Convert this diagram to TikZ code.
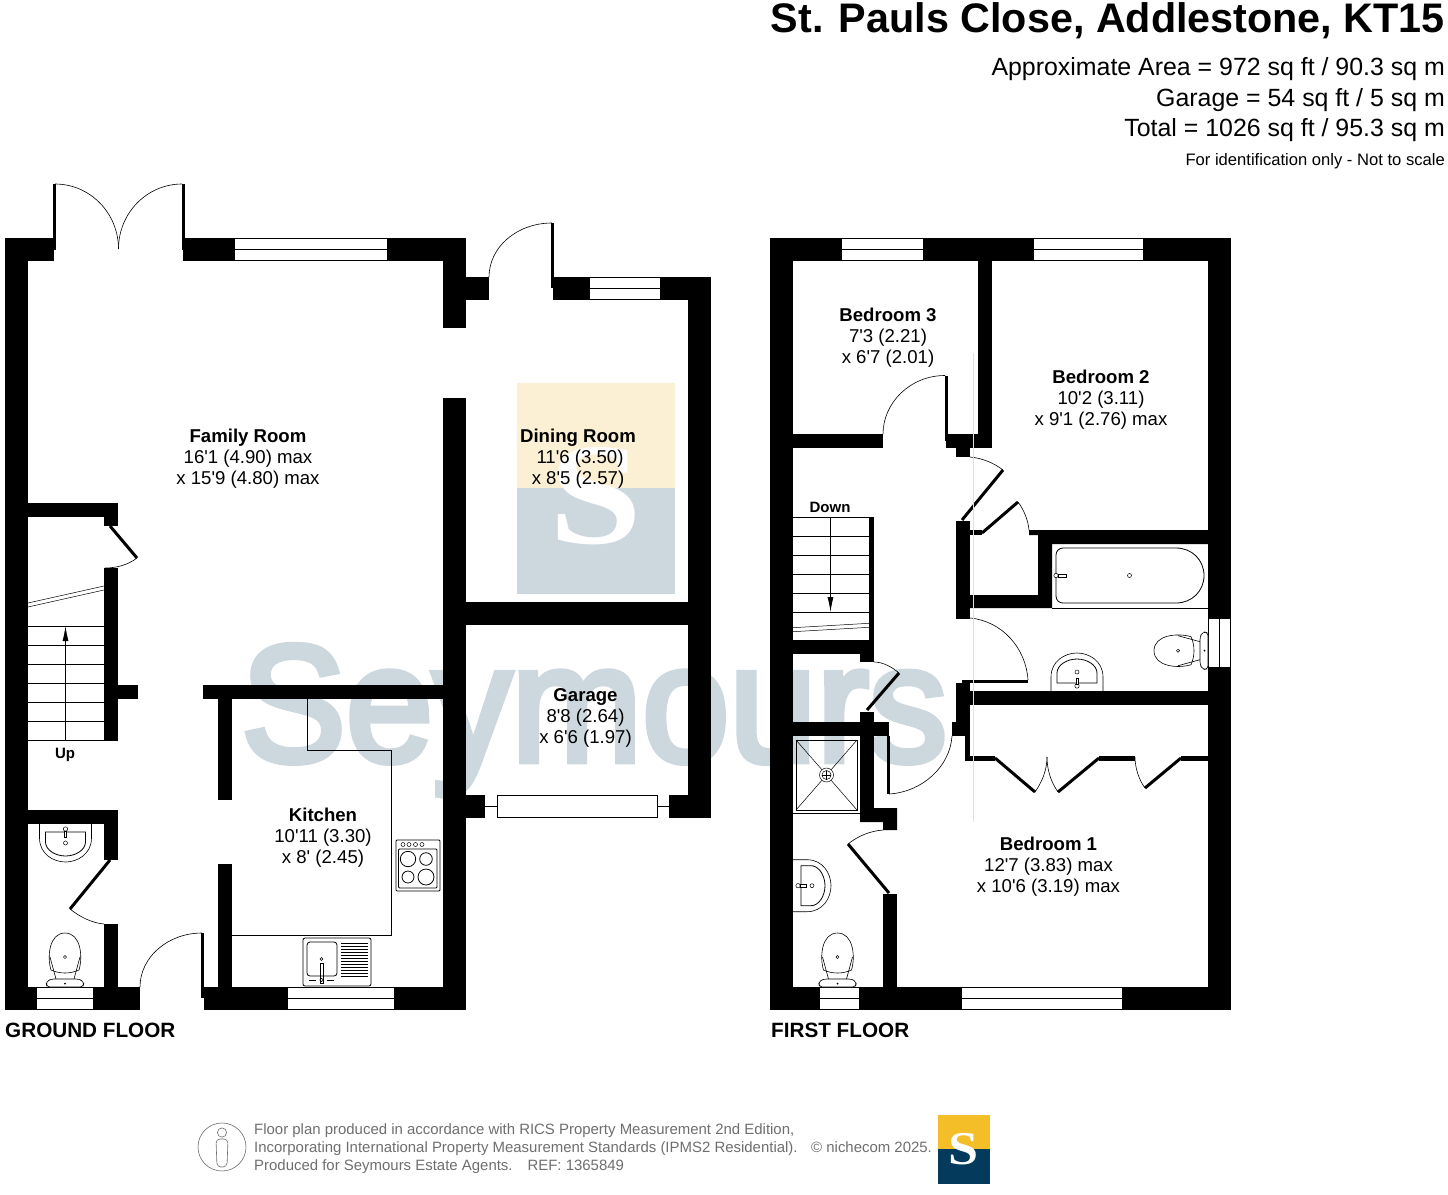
\documentclass[tikz,border=0pt]{standalone}
\usepackage{fontspec}
\setmainfont{Liberation Sans}[Ligatures=TeXOff]
\newfontfamily\logofont{Liberation Serif}[Ligatures=TeXOff]
\newfontfamily\markfont{Liberation Sans}[FakeBold=4]
\usetikzlibrary{
  arrows.meta
}
\definecolor{markgrey}{RGB}{205,215,222}
\definecolor{markyellow}{RGB}{252,240,212}
\definecolor{logoyellow}{RGB}{244,190,40}
\definecolor{logonavy}{RGB}{4,58,92}
\definecolor{footgrey}{RGB}{110,110,110}

\begin{document}
\begin{tikzpicture}[
  x=1pt,
  y=-1pt,
  wall/.style={
    fill=black,
    draw=none
  },
  pane/.style={
    draw=black,
    fill=white,
    line width=0.9pt
  },
  leaf/.style={
    draw=black,
    line width=3pt
  },
  swing/.style={
    draw=black,
    line width=0.6pt
  },
  fitting/.style={
    draw=black,
    line width=0.8pt
  },
  roomname/.style={
    font=\fontsize{18.6}{21.1}\selectfont,
    align=center,
    inner sep=0pt
  },
  floorname/.style={
    font=\fontsize{20.7}{24}\selectfont\bfseries,
    anchor=west,
    inner sep=0pt
  },
  headline/.style={
    font=\fontsize{24.9}{28}\selectfont,
    anchor=base east,
    inner sep=0pt
  },
  footline/.style={
    font=\fontsize{14.95}{18}\selectfont,
    text=footgrey,
    anchor=base west,
    inner sep=0pt
  },
  toilet/.pic={
    \draw[fitting,line width=0.6pt] (-14,-17) .. controls (-18,-30) and (-16,-54) .. (0,-54)
      .. controls (16,-54) and (18,-30) .. (14,-17)
      .. controls (5,-13) and (-5,-13) .. (-14,-17);
    \draw[fitting,line width=0.6pt] (-15,-30) -- (-9,-8);
    \draw[fitting,line width=0.6pt] (15,-30) -- (9,-8);
    \draw[fitting,line width=0.6pt,fill=white,rounded corners=3pt] (-18,0) -- (-19,-5) -- (-14,-8) -- (14,-8) -- (19,-5) -- (18,0) -- cycle;
    \draw[fitting,line width=0.5pt] (0,-30) circle (1.6);
    \fill (0,-3.5) circle (1);
  },
  basin/.pic={
    \draw[fitting,line width=0.6pt] (-26,0) -- (-26,14) .. controls (-26,30) and (-12,38) .. (0,38)
      .. controls (12,38) and (26,30) .. (26,14) -- (26,0);
    \draw[fitting] (-20,8) -- (20,8) -- (20,18) .. controls (20,26) and (10,32) .. (0,32)
      .. controls (-10,32) and (-20,26) .. (-20,18) -- cycle;
    \draw[fitting,line width=0.5pt,fill=white] (0,5) circle (2.2);
    \draw[fitting,line width=0.5pt,fill=white] (-1.2,7) rectangle (1.2,13);
    \draw[fitting,line width=0.5pt] (0,19) circle (2);
  }
]

% Watermark
\path[use as bounding box] (0,0) rectangle (1448,1194);
\node[anchor=base west,inner sep=0pt,text=markgrey,font=\fontsize{166}{170}\selectfont\markfont,transform shape,xscale=0.945] (markname) at (241,761) {Seymours};
\fill[markyellow] (517,383) rectangle (675,488);
\fill[markgrey] (517,488) rectangle (675,594);
\node[anchor=base,inner sep=0pt,text=white,font=\fontsize{145}{145}\selectfont\logofont\bfseries,transform shape,xscale=1.15] (markletter) at (596,543) {S};

% Ground floor walls
\fill[wall] (5,238) rectangle (28,1010);
\fill[wall] (5,238) rectangle (54,261);
\fill[wall] (183,238) rectangle (466,261);
\fill[wall] (443,238) rectangle (466,328);
\fill[wall] (466,277) rectangle (489,300);
\fill[wall] (553,277) rectangle (711,300);
\fill[wall] (688,277) rectangle (711,818);
\fill[wall] (443,398) rectangle (466,1010);
\fill[wall] (466,602) rectangle (688,625);
\fill[wall] (466,795) rectangle (485,818);
\fill[wall] (669,795) rectangle (711,818);
\fill[wall] (5,987) rectangle (140,1010);
\fill[wall] (204,987) rectangle (466,1010);
\fill[wall] (28,503) rectangle (118,517);
\fill[wall] (104,503) rectangle (118,526);
\fill[wall] (104,568) rectangle (118,741);
\fill[wall] (118,685) rectangle (138,699);
\fill[wall] (28,810) rectangle (118,824);
\fill[wall] (104,810) rectangle (118,860);
\fill[wall] (104,924) rectangle (118,987);
\fill[wall] (203,685) rectangle (443,699);
\fill[wall] (218,699) rectangle (232,800);
\fill[wall] (218,864) rectangle (232,987);

% Ground floor windows
\draw[pane] (234,238.5) rectangle (387,260.5);
\draw[pane] (234,249.5) -- (387,249.5);
\draw[pane] (589,277.5) rectangle (660,299.5);
\draw[pane] (589,288.5) -- (660,288.5);
\draw[pane] (36,987.5) rectangle (93,1009.5);
\draw[pane] (36,998.5) -- (93,998.5);
\draw[pane] (287,987.5) rectangle (394,1009.5);
\draw[pane] (287,998.5) -- (394,998.5);
\draw[pane] (485,806.5) -- (497,806.5);
\draw[pane] (657,806.5) -- (669,806.5);
\draw[pane] (497,795.5) rectangle (657,817.5);

% Ground floor doors
\draw[leaf] (54,184) -- (54,250);
\draw[leaf] (183,184) -- (183,250);
\draw[swing] (55,184) .. controls (90,184) and (118.5,213) .. (118.5,249);
\draw[swing] (182,184) .. controls (147,184) and (118.5,213) .. (118.5,249);
\draw[leaf] (552.5,223) -- (552.5,288);
\draw[swing] (489,277) .. controls (489,247) and (517,223) .. (552,223);
\draw[leaf] (202.5,933) -- (202.5,998);
\draw[swing] (140,987) .. controls (140,957) and (168,933) .. (202,933);
\draw[leaf] (110,526) -- (137,558);
\draw[swing] (137,558) .. controls (128,565) and (116,568) .. (105,568);
\draw[leaf] (110,860) -- (70,909);
\draw[swing] (70,909) .. controls (80,917) and (92,923) .. (104,924);

% Ground floor stairs
\foreach \treadY in {626,645,664,683,702,721,740.5} {
  \draw[fitting] (28,\treadY) -- (104,\treadY);
}
\draw[fitting,-{Latex[length=15pt,width=6pt]}] (65.5,740.5) -- (65.5,626);
\draw[fitting,line width=0.5pt] (28,603) -- (104,586);
\draw[fitting,line width=0.5pt] (28,607) -- (104,590);

% Ground floor fittings
\pic at (65.5,824) {basin};
\pic at (65,987) {toilet};
\draw[fitting] (307,699) -- (307,750) -- (391.5,750) -- (391.5,935) -- (232,935);
\draw[fitting,rounded corners=1pt] (396,840) rectangle (440,891);
\draw[fitting,rounded corners=1pt] (398.5,849) rectangle (437,888);
\foreach \knobX in {403,409,415.5,422} {
  \draw[fitting,line width=0.5pt] (\knobX,844.5) circle (2);
}
\draw[fitting] (408,859) circle (7.7);
\draw[fitting] (426,859) circle (6.3);
\draw[fitting] (408,877) circle (6);
\draw[fitting] (426,877) circle (8);
\draw[fitting,rounded corners=2pt] (303,938) rectangle (371,986);
\draw[fitting,rounded corners=3pt] (307,942) rectangle (337,976);
\foreach \ribY in {943,946,...,976} {
  \draw[fitting] (341,\ribY) -- (368,\ribY);
}
\draw[fitting,line width=0.5pt] (321.5,959) circle (1.5);
\draw[fitting,line width=0.5pt] (320.2,963) rectangle (322.8,983);
\draw[fitting,line width=0.5pt] (321.5,980) circle (1.8);
\draw[fitting] (309,980) -- (316,980);
\draw[fitting] (327,980) -- (334,980);

% First floor walls
\fill[wall] (770,238) rectangle (793,1010);
\fill[wall] (770,238) rectangle (1231,261);
\fill[wall] (1208,238) rectangle (1231,618);
\fill[wall] (1208,667) rectangle (1231,1010);
\fill[wall] (978,261) rectangle (992,448);
\fill[wall] (793,434) rectangle (883,448);
\fill[wall] (946,434) rectangle (992,448);
\fill[wall] (956,448) rectangle (970,457);
\fill[wall] (956,521) rectangle (970,619);
\fill[wall] (1029,530) -- (1208,530) -- (1208,544) -- (1052,544) -- (1052,608) -- (970,608) -- (970,595) -- (1038,595) -- (1038,535) -- (1029,535) -- cycle;
\fill[wall] (970,530) rectangle (982,535);
\fill[wall] (869,517) rectangle (874,654);
\fill[wall] (793,640) rectangle (874,654);
\fill[wall] (860,654) rectangle (874,662);
\fill[wall] (793,722) rectangle (889,736);
\fill[wall] (860,712) rectangle (874,822);
\fill[wall] (860,808) -- (897,808) -- (897,830) -- (883,830) -- (883,822) -- (860,822) -- cycle;
\fill[wall] (952,722) rectangle (970,736);
\fill[wall] (956,683) rectangle (970,736);
\fill[wall] (970,691) rectangle (1208,705);
\fill[wall] (965,736) rectangle (970,761);
\fill[wall] (965,756) rectangle (995,761);
\fill[wall] (1099,756) rectangle (1135,761);
\fill[wall] (1181,756) rectangle (1208,761);
\fill[wall] (883,894) rectangle (897,987);
\fill[wall] (770,987) rectangle (1231,1010);

% First floor windows
\draw[pane] (841,238.5) rectangle (923,260.5);
\draw[pane] (841,249.5) -- (923,249.5);
\draw[pane] (1033,238.5) rectangle (1143,260.5);
\draw[pane] (1033,249.5) -- (1143,249.5);
\draw[pane] (819,987.5) rectangle (859,1009.5);
\draw[pane] (819,998.5) -- (859,998.5);
\draw[pane] (961,987.5) rectangle (1122,1009.5);
\draw[pane] (961,998.5) -- (1122,998.5);
\draw[pane,line width=0.5pt] (1208.5,618) rectangle (1230.5,667);
\draw[pane,line width=0.5pt] (1219.5,618) -- (1219.5,667);

% First floor doors
\draw[leaf] (946.5,375.5) -- (946.5,441);
\draw[swing] (883,434) .. controls (883,403) and (910,375.5) .. (945,375.5);
\draw[leaf] (962,520) -- (1003,470);
\draw[swing] (970,457) .. controls (982,458) and (994,463) .. (1003,470);
\draw[leaf] (982,533) -- (1018,502);
\draw[swing] (1018,502) .. controls (1024,510) and (1028,520) .. (1029,530);
\draw[leaf] (867,710) -- (899,673);
\draw[swing] (874,662) .. controls (883,662) and (892,667) .. (899,673);
\draw[leaf] (962,681.5) -- (1028,681.5);
\draw[swing] (970,618) .. controls (1002,621) and (1026,648) .. (1028,680);
\draw[leaf] (888.5,736) -- (888.5,794);
\draw[swing] (889,794) .. controls (922,792) and (950,767) .. (952,736);
\draw[leaf] (848,844) -- (889,893);
\draw[swing] (883,830) .. controls (870,831) and (858,836) .. (848,844);

% Wardrobe doors
\draw[leaf] (995,758) -- (1035,792);
\draw[leaf] (1058,792) -- (1099,758);
\draw[leaf] (1145,788) -- (1181,758);
\draw[swing] (1035,792) .. controls (1042,782) and (1047,770) .. (1047,757);
\draw[swing] (1058,792) .. controls (1051,782) and (1047,770) .. (1047,757);
\draw[swing] (1145,788) .. controls (1139,780) and (1135,768) .. (1135,757);

% First floor stairs
\foreach \treadY in {517,536,555,574,593,612} {
  \draw[fitting] (793,\treadY) -- (869,\treadY);
}
\draw[fitting,-{Latex[length=15pt,width=6pt]}] (830.5,517) -- (830.5,612);
\draw[fitting,line width=0.5pt] (793,627.7) -- (869,623.3);
\draw[fitting,line width=0.5pt] (793,631.7) -- (869,627.3);

% First floor fittings
\draw[fitting] (1056,555) .. controls (1056,551) and (1059,548) .. (1063,548) -- (1176,548)
  .. controls (1192,548) and (1204,560) .. (1204,575.5)
  .. controls (1204,591) and (1192,603) .. (1176,603) -- (1063,603)
  .. controls (1059,603) and (1056,600) .. (1056,596) -- cycle;
\draw[fitting,line width=0.5pt] (1129.5,575.5) circle (2);
\draw[fitting,line width=0.5pt,fill=white] (1056,575.5) circle (2.2);
\draw[fitting,line width=0.5pt] (1058,574) rectangle (1066,577);
\draw[fitting,line width=0.5pt] (1052,608.5) -- (1208,608.5);
\pic[rotate=90] at (1208,650.7) {toilet};
\pic[rotate=180] at (1077,691) {basin};
\pic[rotate=90] at (793,885.7) {basin};
\pic at (837.5,987) {toilet};
\draw[fitting] (796,740) rectangle (857,810);
\draw[fitting] (793,813.5) -- (860,813.5);
\draw[fitting,line width=0.5pt] (796,740) -- (857,810);
\draw[fitting,line width=0.5pt] (857,740) -- (796,810);
\draw[fitting,line width=0.5pt,fill=white] (826.5,775) circle (7);
\draw[fitting,line width=0.5pt] (826.5,775) circle (4.5);
\draw[fitting,line width=0.5pt] (822,775) -- (831,775);
\draw[fitting,line width=0.5pt] (826.5,770.5) -- (826.5,779.5);
\draw[black!12,line width=0.5pt] (973.5,353) -- (973.5,822);

% Room labels
\node[roomname] (family) at (248,458.5) {\textbf{Family Room}\\16'1 (4.90) max\\x 15'9 (4.80) max};
\node[roomname] (dining) at (578,458.5) {\textbf{Dining Room}\\\hspace*{4pt}11'6 (3.50)\\x 8'5 (2.57)};
\node[roomname] (garage) at (585.5,718) {\textbf{Garage}\\8'8 (2.64)\\x 6'6 (1.97)};
\node[roomname] (kitchen) at (323,837.5) {\textbf{Kitchen}\\10'11 (3.30)\\x 8' (2.45)};
\node[roomname] (bedthree) at (888,337.5) {\textbf{Bedroom 3}\\7'3 (2.21)\\x 6'7 (2.01)};
\node[roomname] (bedtwo) at (1101,399.5) {\textbf{Bedroom 2}\\10'2 (3.11)\\x 9'1 (2.76) max};
\node[roomname] (bedone) at (1048.5,867) {\textbf{Bedroom 1}\\12'7 (3.83) max\\x 10'6 (3.19) max};
\node[inner sep=0pt,font=\fontsize{15}{18}\selectfont\bfseries] (uplabel) at (65,755) {Up};
\node[inner sep=0pt,font=\fontsize{15}{18}\selectfont\bfseries] (downlabel) at (830,507) {Down};
\node[floorname] (groundname) at (5,1030) {GROUND FLOOR};
\node[floorname] (firstname) at (771,1030) {FIRST FLOOR};

% Title block
\node[headline,font=\fontsize{41.3}{44}\selectfont\bfseries] (title) at (1445,32) {St. Pauls Close, Addlestone, KT15};
\node[headline] (area) at (1445,75.5) {Approximate Area = 972 sq ft / 90.3 sq m};
\node[headline] (garagearea) at (1445,106) {Garage = 54 sq ft / 5 sq m};
\node[headline] (total) at (1445,136) {Total = 1026 sq ft / 95.3 sq m};
\node[headline,font=\fontsize{16.6}{18}\selectfont] (notscale) at (1445,165) {For identification only - Not to scale};

% Footer
\draw[footgrey,line width=0.6pt] (222,1147) circle (24);
\draw[footgrey,line width=0.6pt] (222,1132.5) circle (4.6);
\draw[footgrey,line width=0.6pt,rounded corners=4pt] (216,1139) -- (228,1139) -- (227,1167) -- (217,1167) -- cycle;
\node[footline] (footone) at (254,1134) {Floor plan produced in accordance with RICS Property Measurement 2nd Edition,};
\node[footline] (foottwo) at (254,1152) {Incorporating International Property Measurement Standards (IPMS2 Residential).};
\node[footline] (footthree) at (254,1170) {Produced for Seymours Estate Agents.\quad REF: 1365849};
\node[footline] (niche) at (811,1152) {© nichecom 2025.};
\fill[logoyellow] (938,1115) rectangle (990,1149);
\fill[logonavy] (938,1149) rectangle (990,1184);
\node[anchor=base,inner sep=0pt,text=white,font=\fontsize{47}{47}\selectfont\logofont\bfseries,transform shape,xscale=1.15] (logoletter) at (964,1164.5) {S};
\end{tikzpicture}
\end{document}
